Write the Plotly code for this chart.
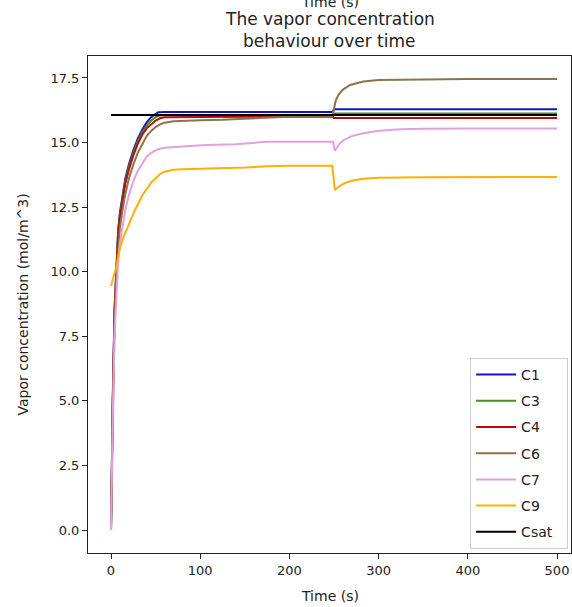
import plotly.graph_objects as go

# ---- data ----
t_c1 = [0, 1, 2, 4, 6, 8, 10, 13, 16, 20, 25, 30, 35, 40, 45, 50, 53, 60, 100, 150, 200, 249, 250, 300, 400, 500]
c1 = [0, 2.8, 5.2, 8.6, 10.4, 11.6, 12.3, 13.0, 13.6, 14.15, 14.7, 15.15, 15.5, 15.78, 15.98, 16.1, 16.17, 16.18, 16.18, 16.18, 16.18, 16.18, 16.29, 16.29, 16.29, 16.29]

t_c3 = [0, 1, 2, 4, 6, 8, 10, 13, 16, 20, 25, 30, 35, 40, 45, 50, 55, 60, 100, 150, 200, 249, 250, 300, 400, 500]
c3 = [0, 2.75, 5.1, 8.5, 10.3, 11.5, 12.2, 12.9, 13.5, 14.05, 14.6, 15.05, 15.4, 15.65, 15.85, 15.98, 16.05, 16.07, 16.07, 16.07, 16.07, 16.07, 16.12, 16.12, 16.12, 16.12]

t_c4 = [0, 1, 2, 4, 6, 8, 10, 13, 16, 20, 25, 30, 35, 40, 45, 50, 55, 60, 100, 150, 200, 249, 250, 300, 400, 500]
c4 = [0, 2.7, 5.0, 8.4, 10.2, 11.4, 12.1, 12.8, 13.4, 13.95, 14.5, 14.95, 15.3, 15.55, 15.72, 15.85, 15.94, 15.98, 15.99, 15.99, 16.0, 16.0, 15.95, 15.95, 15.95, 15.95]

t_c6 = [0, 1, 2, 4, 6, 8, 10, 13, 16, 20, 25, 30, 35, 40, 45, 50, 55, 60, 70, 80, 100, 125, 150, 175, 200, 248, 250, 252, 255, 260, 268, 283, 300, 350, 400, 500]
c6 = [0, 2.5, 4.7, 8.0, 9.8, 11.0, 11.7, 12.4, 13.0, 13.6, 14.15, 14.6, 14.95, 15.25, 15.45, 15.6, 15.7, 15.77, 15.82, 15.84, 15.86, 15.88, 15.92, 15.97, 16.0, 16.03, 16.35, 16.62, 16.85, 17.05, 17.23, 17.36, 17.42, 17.45, 17.46, 17.46]

t_c7 = [0, 1, 2, 4, 6, 8, 10, 13, 16, 20, 25, 30, 35, 40, 45, 50, 55, 60, 80, 107, 140, 160, 175, 200, 249, 251, 253, 256, 260, 270, 283, 300, 325, 350, 400, 500]
c7 = [0, 2.4, 4.5, 7.6, 9.3, 10.4, 11.1, 11.8, 12.4, 12.95, 13.5, 13.9, 14.2, 14.45, 14.6, 14.7, 14.76, 14.8, 14.85, 14.9, 14.93, 14.98, 15.03, 15.03, 15.03, 14.68, 14.8, 14.95, 15.08, 15.25, 15.36, 15.46, 15.51, 15.53, 15.54, 15.54]

t_c9 = [0, 2, 4, 6, 8, 10, 13, 16, 20, 25, 30, 35, 40, 45, 50, 55, 60, 70, 80, 100, 125, 150, 175, 200, 248, 249, 251, 254, 258, 264, 272, 283, 300, 350, 400, 500]
c9 = [9.45, 9.7, 9.92, 10.2, 10.55, 10.9, 11.25, 11.5, 11.85, 12.25, 12.6, 12.95, 13.2, 13.45, 13.62, 13.78, 13.87, 13.95, 13.97, 13.99, 14.0, 14.03, 14.08, 14.1, 14.1, 13.8, 13.16, 13.25, 13.35, 13.46, 13.54, 13.6, 13.64, 13.66, 13.67, 13.67]

t_csat = [0, 500]
csat = [16.07, 16.07]

series = [
    ("C1", t_c1, c1, "#1414c4"),
    ("C3", t_c3, c3, "#4e8c1e"),
    ("C4", t_c4, c4, "#b80c0c"),
    ("C6", t_c6, c6, "#8b7548"),
    ("C7", t_c7, c7, "#e3a0e0"),
    ("C9", t_c9, c9, "#ffb000"),
    ("Csat", t_csat, csat, "#000000"),
]

x_ticks = [0, 100, 200, 300, 400, 500]
y_ticks = [0.0, 2.5, 5.0, 7.5, 10.0, 12.5, 15.0, 17.5]

fig = go.Figure()
for name, t, v, col in series:
    fig.add_trace(go.Scatter(x=t, y=v, mode="lines", name=name + "  ", legendgroup=name,
                             line=dict(color=col, width=2)))

FONT = "DejaVu Sans"
fig.update_layout(
    width=572, height=607,
    margin=dict(l=88, r=1, t=56, b=54),
    paper_bgcolor="white", plot_bgcolor="white",
    font=dict(family=FONT, size=13, color="#222"),
    showlegend=True,
    legend=dict(x=0.994, y=0.008, xanchor="right", yanchor="bottom",
                bgcolor="rgba(255,255,255,0.85)", bordercolor="#cccccc", borderwidth=1,
                font=dict(family=FONT, size=14, color="#222"),
                itemwidth=40, tracegroupgap=5),
)
fig.update_xaxes(range=[-25.8, 515.7], tickvals=x_ticks, ticktext=[str(v) for v in x_ticks],
                 showgrid=False, zeroline=False, showline=True, linecolor="#222", linewidth=1,
                 mirror=True, ticks="outside", ticklen=5, tickcolor="#222",
                 tickfont=dict(family=FONT, size=13, color="#222"))
fig.update_yaxes(range=[-0.89, 18.35], tickvals=y_ticks, ticktext=[f"{v:.1f}" for v in y_ticks],
                 showgrid=False, zeroline=False, showline=True, linecolor="#222", linewidth=1,
                 mirror=True, ticks="outside", ticklen=5, tickcolor="#222",
                 tickfont=dict(family=FONT, size=13, color="#222"))

ph = 607 - 56 - 54
def py(p):
    return (553 - p) / ph

fig.add_annotation(text="Time (s)", xref="paper", yref="paper", x=0.5, y=py(2),
                   xanchor="center", yanchor="middle", showarrow=False,
                   font=dict(family=FONT, size=14, color="#222"))
fig.add_annotation(text="The vapor concentration", xref="paper", yref="paper", x=0.5, y=py(19.5),
                   xanchor="center", yanchor="middle", showarrow=False,
                   font=dict(family=FONT, size=17, color="#222"))
fig.add_annotation(text="behaviour over time", xref="paper", yref="paper", x=0.5, y=py(41.5),
                   xanchor="center", yanchor="middle", showarrow=False,
                   font=dict(family=FONT, size=17, color="#222"))
fig.add_annotation(text="Time (s)", xref="paper", yref="paper", x=0.5, y=py(596),
                   xanchor="center", yanchor="middle", showarrow=False,
                   font=dict(family=FONT, size=14, color="#222"))
fig.add_annotation(text="Vapor concentration (mol/m^3)", xref="paper", yref="paper", x=0, y=0.5,
                   xshift=22 - 88, xanchor="center", yanchor="middle", textangle=-90, showarrow=False,
                   font=dict(family=FONT, size=14, color="#222"))

fig.write_html("out.html")
